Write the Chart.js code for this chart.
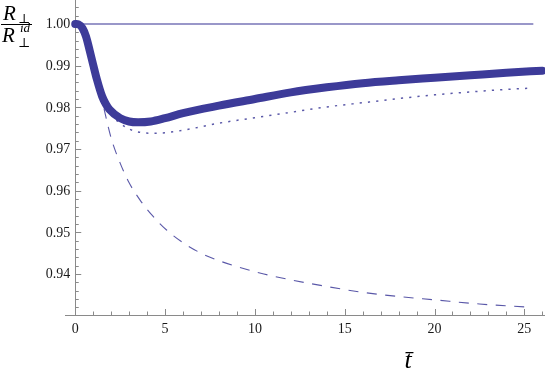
<!DOCTYPE html>
<html>
<head>
<meta charset="utf-8">
<script src="https://cdn.jsdelivr.net/npm/chart.js@4"></script>
<style>
  html, body { margin: 0; padding: 0; background: #fff; }
  #wrap { width: 545px; height: 378px; }
</style>
</head>
<body>
<div id="wrap"><canvas id="chart" width="545" height="378"></canvas></div>
<script>
// 곡선 데이터
const idealT = [0, 25.5];
const idealR = [1.0, 1.0];

const fullT = [0, 0.2, 0.4, 0.6, 0.8, 1.0, 1.2, 1.5, 1.7, 1.9, 2.5, 3.0, 3.5, 4.2, 5.0, 6.0, 8.0, 10.0, 12.0, 14.0, 16.0, 18.0, 20.0, 22.0, 24.0, 26.0];
const fullR = [1.0, 0.9999, 0.9990, 0.9970, 0.9937, 0.9902, 0.9868, 0.9826, 0.9808, 0.9795, 0.9774, 0.9766, 0.9764, 0.9766, 0.9774, 0.9786, 0.9804, 0.9820, 0.9836, 0.9848, 0.9858, 0.9865, 0.9871, 0.9877, 0.9883, 0.9888];

const dotT = [0, 0.2, 0.4, 0.6, 0.8, 1.0, 1.2, 1.5, 2.0, 2.5, 3.0, 3.5, 4.2, 5.0, 6.0, 8.0, 10.0, 12.0, 14.0, 16.0, 18.0, 20.0, 22.0, 24.0, 25.3];
const dotR = [1.0, 0.9999, 0.9990, 0.9970, 0.9937, 0.9902, 0.9867, 0.9826, 0.9783, 0.9762, 0.9748, 0.9741, 0.9738, 0.9739, 0.9745, 0.9762, 0.9775, 0.9788, 0.9801, 0.9811, 0.9821, 0.9830, 0.9837, 0.9843, 0.9846];

const dashT = [0, 0.2, 0.4, 0.6, 0.8, 1.0, 1.2, 1.5, 2.0, 2.5, 3.0, 3.6, 4.3, 5.1, 6.0, 7.0, 8.0, 9.0, 10.5, 12.0, 14.0, 16.0, 18.0, 20.0, 22.5, 25.0];
const dashR = [1.0, 0.9999, 0.9990, 0.9970, 0.9937, 0.9901, 0.9865, 0.9815, 0.9726, 0.9666, 0.9619, 0.9578, 0.9540, 0.9505, 0.9475, 0.9450, 0.9432, 0.9418, 0.9400, 0.9386, 0.9370, 0.9356, 0.9346, 0.9338, 0.9328, 0.9321];

// 축 눈금 레이블
const xTickLabels = ['0', '5', '10', '15', '20', '25'];
const yTickLabels = ['0.94', '0.95', '0.96', '0.97', '0.98', '0.99', '1.00'];

const toPoints = (ts, rs) => ts.map((t, i) => ({ x: t, y: rs[i] }));

const lineColor = '#3d3b99';
const axisColor = '#8a8a8a';

// 축, 눈금, 제목을 직접 그리는 플러그인
const axesPlugin = {
    id: 'mathAxes',
    beforeDatasetsDraw(chart) {
        const { ctx, scales: { x, y }, chartArea } = chart;
        const x0 = x.getPixelForValue(0);
        const yBase = chartArea.bottom;
        ctx.save();
        ctx.strokeStyle = axisColor;
        ctx.lineWidth = 1;
        ctx.beginPath();
        ctx.moveTo(chartArea.left, yBase + 0.5);
        ctx.lineTo(chartArea.right, yBase + 0.5);
        ctx.moveTo(Math.round(x0) + 0.5, yBase);
        ctx.lineTo(Math.round(x0) + 0.5, chartArea.top);
        ctx.stroke();

        // x 눈금 (안쪽으로)
        ctx.beginPath();
        for (let t = 0; t <= 26; t++) {
            const px = Math.round(x.getPixelForValue(t)) + 0.5;
            const len = t % 5 === 0 ? 6 : 3.5;
            ctx.moveTo(px, yBase);
            ctx.lineTo(px, yBase - len);
        }
        // y 눈금 (안쪽으로)
        for (let k = 0; k <= 37; k++) {
            const v = 0.932 + k * 0.002;
            if (v > y.max) break;
            const py = Math.round(y.getPixelForValue(v)) + 0.5;
            const len = k % 5 === 4 ? 6 : 3.5;
            ctx.moveTo(x0, py);
            ctx.lineTo(x0 + len, py);
        }
        ctx.stroke();

        // 눈금 레이블
        ctx.fillStyle = '#1a1a1a';
        ctx.font = '14px "Liberation Serif", serif';
        ctx.textAlign = 'center';
        ctx.textBaseline = 'middle';
        xTickLabels.forEach(l => {
            ctx.fillText(l, x.getPixelForValue(Number(l)), yBase + 14);
        });
        ctx.textAlign = 'right';
        yTickLabels.forEach(l => {
            ctx.fillText(l, x0 - 5, y.getPixelForValue(Number(l)) + 0.5);
        });

        // y축 제목: R⊥ / R⊥^id
        ctx.fillStyle = '#000';
        ctx.textAlign = 'left';
        ctx.textBaseline = 'alphabetic';
        ctx.font = 'italic 21px "Liberation Serif", serif';
        ctx.fillText('R', 3, 20);
        ctx.fillText('R', 2, 42);
        ctx.font = '13px "DejaVu Serif", serif';
        ctx.fillText('⊥', 18, 23);
        ctx.fillText('⊥', 18, 47);
        ctx.font = 'italic 13px "Liberation Serif", serif';
        ctx.fillText('id', 20, 32);
        ctx.strokeStyle = '#000';
        ctx.beginPath();
        ctx.moveTo(1, 24.5);
        ctx.lineTo(32, 24.5);
        ctx.stroke();

        // x축 제목: t̄
        ctx.font = 'italic 26px "Liberation Serif", serif';
        ctx.textAlign = 'center';
        ctx.fillText('t̄', 408, 368);
        ctx.restore();
    }
};

const chart = new Chart(document.getElementById('chart'), {
    type: 'line',
    data: {
        datasets: [
            {
                label: 'full',
                data: toPoints(fullT, fullR),
                borderColor: lineColor,
                borderWidth: 8,
                borderCapStyle: 'round',
                borderJoinStyle: 'round',
                cubicInterpolationMode: 'monotone',
                pointRadius: 0,
                fill: false,
                clip: false
            },
            {
                label: 'ideal',
                data: toPoints(idealT, idealR),
                borderColor: 'rgba(61, 59, 153, 0.7)',
                borderWidth: 1.5,
                pointRadius: 0,
                fill: false,
                clip: false
            },
            {
                label: 'dotted',
                data: toPoints(dotT, dotR),
                borderColor: 'rgba(61, 59, 153, 0.85)',
                borderWidth: 1.5,
                borderDash: [2.2, 6.1],
                cubicInterpolationMode: 'monotone',
                pointRadius: 0,
                fill: false,
                clip: false
            },
            {
                label: 'dashed',
                data: toPoints(dashT, dashR),
                borderColor: 'rgba(61, 59, 153, 0.85)',
                borderWidth: 1.1,
                borderDash: [10, 8.5],
                cubicInterpolationMode: 'monotone',
                pointRadius: 0,
                fill: false,
                clip: false
            }
        ]
    },
    options: {
        responsive: false,
        animation: false,
        layout: { padding: { left: 65, right: 0, top: 0, bottom: 63 } },
        plugins: {
            legend: { display: false },
            tooltip: { enabled: false }
        },
        scales: {
            x: { type: 'linear', display: false, min: -0.57, max: 26.15 },
            y: { type: 'linear', display: false, min: 0.93016, max: 1.00576 }
        }
    },
    plugins: [axesPlugin]
});
</script>
</body>
</html>
